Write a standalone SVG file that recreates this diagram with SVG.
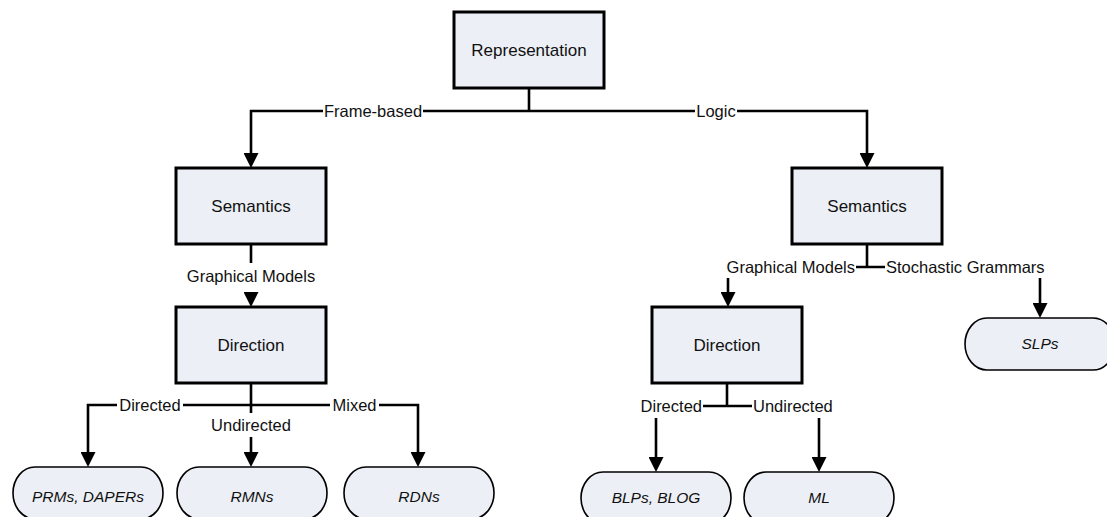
<svg xmlns="http://www.w3.org/2000/svg" width="1107" height="517" viewBox="0 0 1107 517">
  <defs>
    <style>
      .box { fill: #ECEFF5; stroke: #000; stroke-width: 3; }
      .term { fill: #ECEFF5; stroke: #000; stroke-width: 1.6; }
      .node-text { font-family: "Liberation Sans", Arial, sans-serif; font-size: 17px; fill: #111; text-anchor: middle; }
      .term-text { font-family: "Liberation Sans", Arial, sans-serif; font-size: 15.5px; font-style: italic; fill: #111; text-anchor: middle; }
      .edge { fill: none; stroke: #000; stroke-width: 2.6; }
      .label { font-family: "Liberation Sans", Arial, sans-serif; font-size: 16.5px; fill: #111; }
    </style>
    <marker id="arrow" viewBox="0 0 15 15" refX="5" refY="7.5" markerWidth="15" markerHeight="15" markerUnits="userSpaceOnUse" orient="auto">
      <path d="M0,0 L15,7.5 L0,15 z" fill="#000"/>
    </marker>
  </defs>

  <rect width="1107" height="517" fill="#fff"/>

  <!-- connectors, broken where a label sits on the line -->
  <g id="connectors">
    <path class="edge" d="M529,88 V111"/>
    <path class="edge" d="M529,111 H423 M323,111 H251 V158" marker-end="url(#arrow)"/>
    <path class="edge" d="M529,111 H695 M737,111 H867 V158" marker-end="url(#arrow)"/>

    <path class="edge" d="M251,244 V263 M251,292 V297" marker-end="url(#arrow)"/>
    <path class="edge" d="M251,383 V405 H183 M117,405 H88 V457" marker-end="url(#arrow)"/>
    <path class="edge" d="M251,405 H330 M379,405 H418 V457" marker-end="url(#arrow)"/>
    <path class="edge" d="M251,405 V413 M251,437 V457" marker-end="url(#arrow)"/>

    <path class="edge" d="M867,244 V267 H856 M867,267 H885"/>
    <path class="edge" d="M728,278 V297" marker-end="url(#arrow)"/>
    <path class="edge" d="M1040,278 V308" marker-end="url(#arrow)"/>

    <path class="edge" d="M727,383 V406 H703 M727,406 H752"/>
    <path class="edge" d="M656,418 V462" marker-end="url(#arrow)"/>
    <path class="edge" d="M819,418 V462" marker-end="url(#arrow)"/>

    <g class="label">
      <text x="373" y="117" text-anchor="middle">Frame-based</text>
      <text x="716" y="117" text-anchor="middle">Logic</text>
      <text x="251" y="282" text-anchor="middle">Graphical Models</text>
      <text x="150" y="411" text-anchor="middle">Directed</text>
      <text x="354.5" y="411" text-anchor="middle">Mixed</text>
      <text x="251" y="431" text-anchor="middle">Undirected</text>
      <text x="855" y="273" text-anchor="end">Graphical Models</text>
      <text x="886" y="273" text-anchor="start">Stochastic Grammars</text>
      <text x="702" y="412" text-anchor="end">Directed</text>
      <text x="753" y="412" text-anchor="start">Undirected</text>
    </g>
  </g>

  <!-- process boxes -->
  <g id="representation">
    <rect class="box" x="454" y="12" width="150" height="76"/>
    <text class="node-text" x="529" y="56">Representation</text>
  </g>
  <g id="semantics-frame">
    <rect class="box" x="176" y="168" width="150" height="76"/>
    <text class="node-text" x="251" y="212">Semantics</text>
  </g>
  <g id="direction-frame">
    <rect class="box" x="176" y="307" width="150" height="76"/>
    <text class="node-text" x="251" y="351">Direction</text>
  </g>
  <g id="semantics-logic">
    <rect class="box" x="792" y="168" width="150" height="76"/>
    <text class="node-text" x="867" y="212">Semantics</text>
  </g>
  <g id="direction-logic">
    <rect class="box" x="652" y="307" width="150" height="76"/>
    <text class="node-text" x="727" y="351">Direction</text>
  </g>

  <!-- terminal nodes -->
  <g id="prms-dapers">
    <rect class="term" x="13" y="467" width="150" height="52" rx="22" ry="26"/>
    <text class="term-text" x="88" y="502">PRMs, DAPERs</text>
  </g>
  <g id="rmns">
    <rect class="term" x="177" y="467" width="150" height="52" rx="22" ry="26"/>
    <text class="term-text" x="252" y="502">RMNs</text>
  </g>
  <g id="rdns">
    <rect class="term" x="344" y="467" width="150" height="52" rx="22" ry="26"/>
    <text class="term-text" x="419" y="502">RDNs</text>
  </g>
  <g id="blps-blog">
    <rect class="term" x="581" y="472" width="150" height="52" rx="22" ry="26"/>
    <text class="term-text" x="656" y="503">BLPs, BLOG</text>
  </g>
  <g id="ml">
    <rect class="term" x="744" y="472" width="150" height="52" rx="22" ry="26"/>
    <text class="term-text" x="819" y="503">ML</text>
  </g>
  <g id="slps">
    <rect class="term" x="965" y="318" width="150" height="52" rx="22" ry="26"/>
    <text class="term-text" x="1040" y="349">SLPs</text>
  </g>
</svg>
